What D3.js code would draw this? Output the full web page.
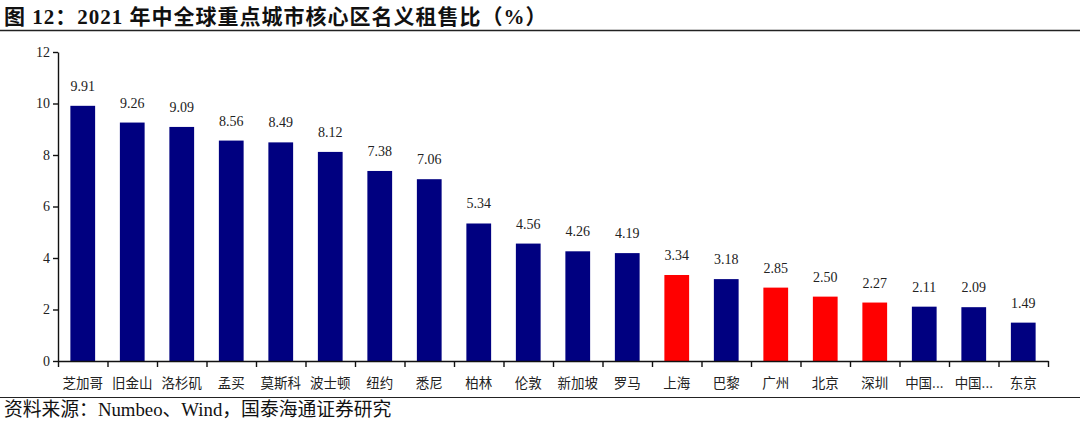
<!DOCTYPE html>
<html lang="zh">
<head>
<meta charset="UTF-8">
<title>2021年中全球重点城市核心区名义租售比</title>
<script src="https://d3js.org/d3.v7.min.js"></script>
<style>
  body { margin: 0; background: #fff; }
  svg text { font-family: "Liberation Serif", "Noto Sans CJK SC", serif; }
</style>
</head>
<body>
<div id="chart"></div>
<script>
// data
const cities = ["芝加哥", "旧金山", "洛杉矶", "孟买", "莫斯科", "波士顿", "纽约", "悉尼", "柏林", "伦敦",
  "新加坡", "罗马", "上海", "巴黎", "广州", "北京", "深圳", "中国...", "中国...", "东京"];
const ratios = [9.91, 9.26, 9.09, 8.56, 8.49, 8.12, 7.38, 7.06, 5.34, 4.56,
  4.26, 4.19, 3.34, 3.18, 2.85, 2.50, 2.27, 2.11, 2.09, 1.49];
const mainland = ["上海", "广州", "北京", "深圳"];
const yTicks = [0, 2, 4, 6, 8, 10, 12];

const W = 1080, H = 422;
const plotL = 58, plotR = 1048, plotT = 52, plotB = 361;

const svg = d3.select("#chart").append("svg")
  .attr("width", W)
  .attr("height", H);

// title + rules
svg.append("text")
  .attr("x", 4)
  .attr("y", 24)
  .attr("font-size", 21)
  .attr("font-weight", "bold")
  .attr("letter-spacing", 1)
  .attr("fill", "#111")
  .text("图 12：2021 年中全球重点城市核心区名义租售比（%）");

svg.append("line")
  .attr("x1", 0).attr("x2", W)
  .attr("y1", 30.5).attr("y2", 30.5)
  .attr("stroke", "#222").attr("stroke-width", 1.5);

svg.append("line")
  .attr("x1", 0).attr("x2", W)
  .attr("y1", 397.5).attr("y2", 397.5)
  .attr("stroke", "#222").attr("stroke-width", 1.2);

svg.append("text")
  .attr("x", 4)
  .attr("y", 416)
  .attr("font-size", 18.8)
  .attr("fill", "#111")
  .text("资料来源：Numbeo、Wind，国泰海通证券研究");

// scales (index based, the two 中国... labels repeat)
const idx = d3.range(cities.length);
const x = d3.scaleBand()
  .domain(idx)
  .range([plotL, plotR])
  .paddingInner(0.5)
  .paddingOuter(0.25);

const xEdge = d3.scaleLinear()
  .domain([0, cities.length])
  .range([plotL, plotR]);

const y = d3.scaleLinear()
  .domain([0, 12])
  .range([plotB, plotT]);

// bars
svg.append("g")
  .selectAll("rect")
  .data(idx)
  .enter()
  .append("rect")
  .attr("x", i => x(i))
  .attr("y", i => y(ratios[i]))
  .attr("width", x.bandwidth())
  .attr("height", i => y(0) - y(ratios[i]))
  .attr("fill", i => mainland.includes(cities[i]) ? "#ff0000" : "#000080");

// value labels
svg.append("g")
  .selectAll("text")
  .data(idx)
  .enter()
  .append("text")
  .attr("x", i => x(i) + x.bandwidth() / 2)
  .attr("y", i => y(ratios[i]) - 15)
  .attr("text-anchor", "middle")
  .attr("font-size", 14)
  .attr("fill", "#222")
  .text(i => ratios[i].toFixed(2));

// y axis
const yAxis = svg.append("g")
  .attr("transform", `translate(${plotL},0)`)
  .call(d3.axisLeft(y).tickValues(yTicks).tickSize(5).tickSizeOuter(0).tickPadding(3));
yAxis.selectAll("text")
  .attr("font-size", 14)
  .attr("fill", "#222")
  .style("font-family", "Liberation Serif");
yAxis.selectAll("path, line").attr("stroke", "#111").attr("stroke-width", 1.4);

// x axis: tick marks at band edges
const xTicks = svg.append("g")
  .attr("transform", `translate(0,${plotB})`)
  .call(d3.axisBottom(xEdge).ticks(cities.length).tickFormat("").tickSize(6).tickSizeOuter(0));
xTicks.selectAll("path, line").attr("stroke", "#111").attr("stroke-width", 1.4);

// x axis labels
const xLabels = svg.append("g")
  .attr("transform", `translate(0,${plotB})`)
  .call(d3.axisBottom(x).tickSize(0).tickPadding(17).tickFormat(i => cities[i]));
xLabels.select(".domain").remove();
xLabels.selectAll("text")
  .attr("font-size", 13.5)
  .attr("fill", "#222")
  .style("font-family", "Noto Sans CJK SC");
</script>
</body>
</html>
